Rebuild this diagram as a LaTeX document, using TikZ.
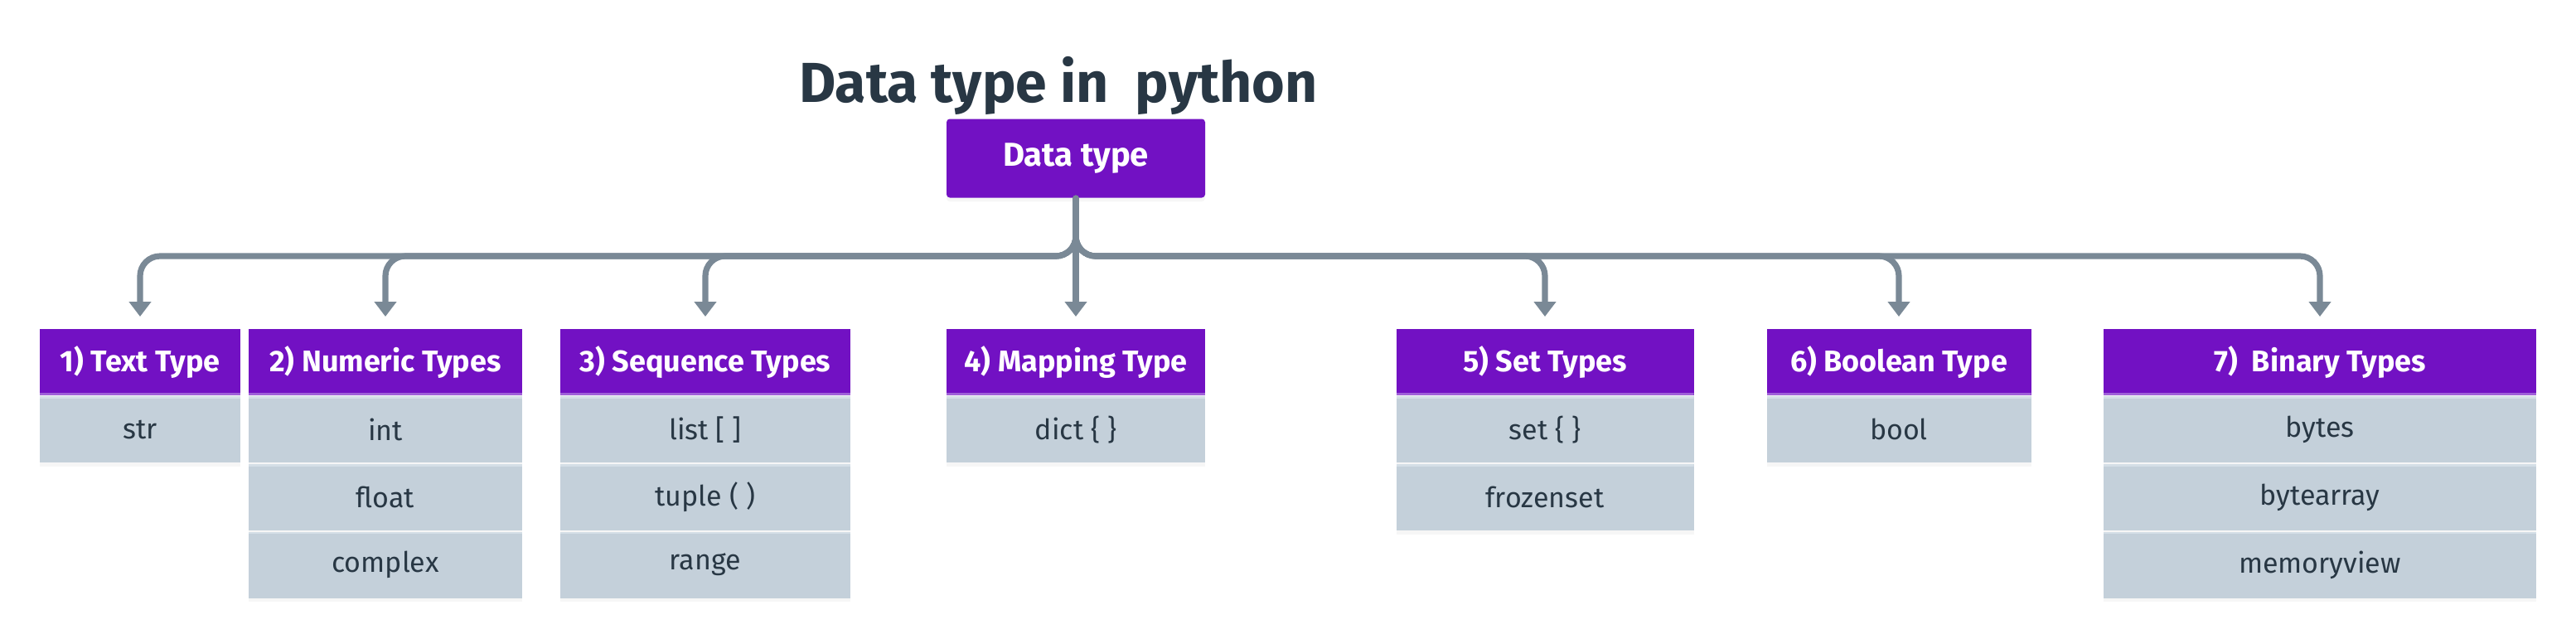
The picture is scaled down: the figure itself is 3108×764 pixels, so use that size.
\documentclass[tikz,border=0pt]{standalone}
\usepackage{fontspec}
\setmainfont{Fira Sans}
\usetikzlibrary{positioning,arrows.meta,shadows}

\definecolor{dtpurple}{RGB}{114,17,195}
\definecolor{dtstrip}{RGB}{160,96,216}
\definecolor{dtgray}{RGB}{196,208,218}
\definecolor{dtsep}{RGB}{213,223,231}
\definecolor{dtlink}{RGB}{122,137,150}
\definecolor{dttext}{RGB}{40,55,68}

\tikzstyle{rootbox} = [fill=dtpurple, text=white, rounded corners=1pt,
    minimum width=78pt, minimum height=23.75pt, inner sep=0pt,
    font=\bfseries\fontsize{10}{12}\selectfont,
    drop shadow={opacity=0.07, shadow xshift=0pt, shadow yshift=-1.2pt}]
\tikzstyle{headbox} = [fill=dtpurple, text=white, anchor=north,
    minimum height=20pt, inner sep=0pt,
    font=\bfseries\fontsize{9}{11}\selectfont,
    drop shadow={opacity=0.07, shadow xshift=0pt, shadow yshift=-1.2pt},
    path picture={\fill[dtstrip] (path picture bounding box.south west)
        rectangle ([yshift=0.7pt]path picture bounding box.south east);}]
\tikzstyle{itembox} = [fill=dtgray, text=dttext,
    minimum height=20pt, inner sep=0pt,
    font=\fontsize{8.5}{10}\selectfont,
    drop shadow={opacity=0.07, shadow xshift=0pt, shadow yshift=-1.2pt},
    path picture={\fill[dtsep] (path picture bounding box.north west)
        rectangle ([yshift=-0.7pt]path picture bounding box.north east);}]
\tikzstyle{link} = [draw=dtlink, line width=1.8pt, line cap=round,
    rounded corners=6pt, shorten >=3.5pt,
    -{Triangle[width=6.5pt,length=4.5pt]}]

\begin{document}
\begin{tikzpicture}[x=0.25pt,y=-0.25pt]
\useasboundingbox (0,0) rectangle (3108,764);

\node[anchor=base, text=dttext, font=\bfseries\fontsize{17}{20}\selectfont]
    (title) at (1277,123) {Data type in~ python};
\node[rootbox] (root) at (1298,191) {Data type};

% the seven groups
\node[headbox, minimum width=60.5pt] (text) at (169,396) {1) Text Type};
\node[itembox, minimum width=60.5pt, below=0pt of text] (str) {str};

\node[headbox, minimum width=82.5pt] (num) at (465,396) {2) Numeric Types};
\node[itembox, minimum width=82.5pt, below=0pt of num] (int) {int};
\node[itembox, minimum width=82.5pt, below=0pt of int] (float) {float};
\node[itembox, minimum width=82.5pt, below=0pt of float] (complex) {complex};

\node[headbox, minimum width=87.5pt] (seq) at (851,396) {3) Sequence Types};
\node[itembox, minimum width=87.5pt, below=0pt of seq] (list) {list [ ]};
\node[itembox, minimum width=87.5pt, below=0pt of list] (tuple) {tuple ( )};
\node[itembox, minimum width=87.5pt, below=0pt of tuple] (range) {range};

\node[headbox, minimum width=78pt] (map) at (1298,396) {4) Mapping Type};
\node[itembox, minimum width=78pt, below=0pt of map] (dict) {dict \{ \}};

\node[headbox, minimum width=89.75pt] (set) at (1864,396) {5) Set Types};
\node[itembox, minimum width=89.75pt, below=0pt of set] (setb) {set \{ \}};
\node[itembox, minimum width=89.75pt, below=0pt of setb] (frozen) {frozenset};

\node[headbox, minimum width=79.75pt] (bool) at (2291,396) {6) Boolean Type};
\node[itembox, minimum width=79.75pt, below=0pt of bool] (boolb) {bool};

\node[headbox, minimum width=130.5pt] (bin) at (2799,396) {7)~ Binary Types};
\node[itembox, minimum width=130.5pt, below=0pt of bin] (bytes) {bytes};
\node[itembox, minimum width=130.5pt, below=0pt of bytes] (barray) {bytearray};
\node[itembox, minimum width=130.5pt, below=0pt of barray] (mview) {memoryview};

% connectors
\coordinate (bus) at (1298,309);
\foreach \n in {text,num,seq,set,bool,bin}
    \draw[link] (root.south) -- (root.south |- bus) -| (\n.north);
\draw[link] (root.south) -- (map.north);
\end{tikzpicture}
\end{document}
